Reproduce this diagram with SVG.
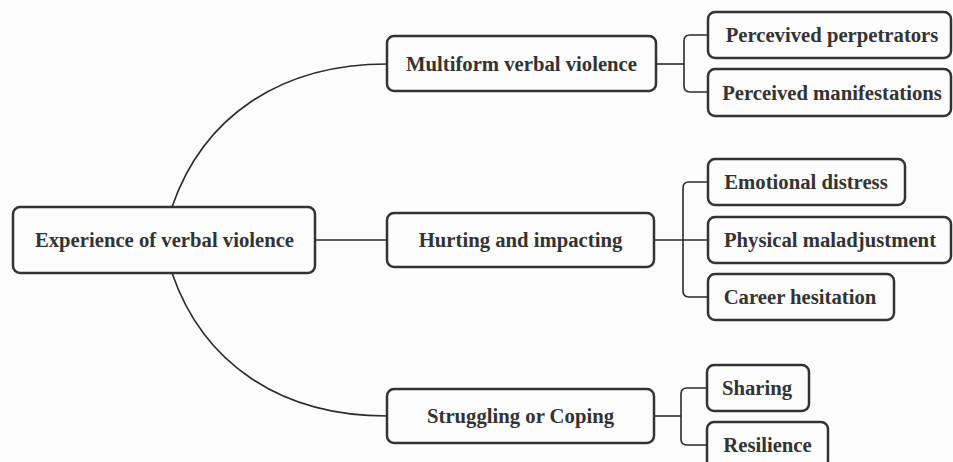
<svg xmlns="http://www.w3.org/2000/svg" width="953" height="462" viewBox="0 0 953 462">
<style>
.box{fill:#fdfdfd;stroke:#333;stroke-width:2.5}
.lbl{font-family:"Liberation Serif","Times New Roman",serif;font-weight:bold;font-size:20.7px;fill:#333;text-anchor:middle}
.con{fill:none;stroke:#2a2a2a;stroke-width:1.6}
</style>
<rect width="953" height="462" fill="#fdfdfd"/>
<g id="connectors">
<path class="con" d="M172,207 C203,117 280,64 387,64"/>
<path class="con" d="M172,273 C203,363 280,416 387,416"/>
<path class="con" d="M315,240 H387"/>
<path class="con" d="M656,64 H684"/>
<path class="con" d="M708,35 H690 Q684,35 684,41 V86 Q684,92 690,92 H708"/>
<path class="con" d="M654,240 H708"/>
<path class="con" d="M708,182 H689 Q683,182 683,188 V291 Q683,297 689,297 H708"/>
<path class="con" d="M654,416 H681"/>
<path class="con" d="M707,388 H687 Q681,388 681,394 V439 Q681,445 687,445 H707"/>
</g>
<g id="root"><rect class="box" x="13" y="207" width="302" height="66" rx="7"/><text class="lbl" x="164.5" y="247">Experience of verbal violence</text></g>
<g id="multiform"><rect class="box" x="387" y="36" width="269" height="55" rx="7"/><text class="lbl" x="521.5" y="70.5">Multiform verbal violence</text></g>
<g id="hurting"><rect class="box" x="387" y="213" width="267" height="54" rx="7"/><text class="lbl" x="520.5" y="247">Hurting and impacting</text></g>
<g id="struggling"><rect class="box" x="387" y="389" width="267" height="54" rx="7"/><text class="lbl" x="520.5" y="423">Struggling or Coping</text></g>
<g id="perpetrators"><rect class="box" x="708" y="12" width="243" height="46" rx="7"/><text class="lbl" x="832" y="42">Percevived perpetrators</text></g>
<g id="manifestations"><rect class="box" x="708" y="69" width="243" height="47" rx="7"/><text class="lbl" x="832" y="99.5">Perceived manifestations</text></g>
<g id="emotional"><rect class="box" x="708" y="159" width="197" height="46" rx="7"/><text class="lbl" x="806" y="189">Emotional distress</text></g>
<g id="physical"><rect class="box" x="708" y="217" width="243" height="46" rx="7"/><text class="lbl" x="830" y="247">Physical maladjustment</text></g>
<g id="career"><rect class="box" x="708" y="274" width="186" height="46" rx="7"/><text class="lbl" x="800" y="304">Career hesitation</text></g>
<g id="sharing"><rect class="box" x="707" y="365" width="102" height="46" rx="7"/><text class="lbl" x="757" y="395">Sharing</text></g>
<g id="resilience"><rect class="box" x="707" y="422" width="121" height="46" rx="7"/><text class="lbl" x="767.5" y="452">Resilience</text></g>
</svg>
